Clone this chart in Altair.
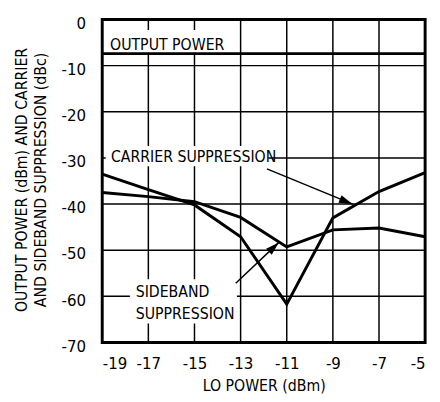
import altair as alt
import pandas as pd

# ---- data ----
lo_power = [-19, -17, -15, -13, -11, -9, -7, -5]
output_power = [-7.4, -7.4, -7.4, -7.4, -7.4, -7.4, -7.4, -7.4]
carrier_supp = [-33.5, -36.9, -40.2, -47.1, -61.7, -43.0, -37.3, -33.2]
sideband_supp = [-37.5, -38.4, -39.5, -42.9, -49.3, -45.6, -45.2, -47.1]

x_ticks = [-19, -17, -15, -13, -11, -9, -7, -5]
y_ticks = [0, -10, -20, -30, -40, -50, -60, -70]
x_range = [-19, -5]
y_range = [-70, 0]

# annotation labels
label_text = ["OUTPUT POWER", "CARRIER SUPPRESSION", "SIDEBAND", "SUPPRESSION"]
label_x = [-18.66, -18.62, -17.55, -17.55]
label_y = [-6.6, -30.8, -60.2, -65.0]

# white backgrounds behind labels (break the grid)
bg_x = [-18.75, -18.85, -17.8]
bg_x2 = [-13.9, -11.8, -13.16]
bg_y = [-2.3, -27.4, -56.3]
bg_y2 = [-7.2, -31.8, -65.9]

# arrows (start -> tip)
arr_x = [-11.86, -13.21]
arr_y = [-32.39, -57.16]
arr_x2 = [-8.14, -11.34]
arr_y2 = [-40.03, -48.32]
arr_angle = [22.2, 316.8]

FONT = "DejaVu Sans Condensed, Liberation Sans Narrow, sans-serif"

rows = []
for name, vals in [("OUTPUT POWER", output_power),
                   ("CARRIER SUPPRESSION", carrier_supp),
                   ("SIDEBAND SUPPRESSION", sideband_supp)]:
    for xv, yv in zip(lo_power, vals):
        rows.append({"series": name, "lo": xv, "val": yv})
df = pd.DataFrame(rows)

# grid lines as two-point polylines built from the tick arrays
grid_rows = []
for v in x_ticks:
    for yv in y_range:
        grid_rows.append({"g": f"v{v}", "gx": v, "gy": yv})
for v in y_ticks:
    for xv in x_range:
        grid_rows.append({"g": f"h{v}", "gx": xv, "gy": v})
grid = pd.DataFrame(grid_rows)

labels = pd.DataFrame({"t": label_text, "x": label_x, "y": label_y})
bgs = pd.DataFrame({"x": bg_x, "x2": bg_x2, "y": bg_y, "y2": bg_y2})
arrows = pd.DataFrame({"x": arr_x, "y": arr_y, "x2": arr_x2, "y2": arr_y2, "a": arr_angle})

xs = alt.Scale(domain=x_range, nice=False, zero=False)
ys = alt.Scale(domain=y_range, nice=False, zero=False)

XT = "LO POWER (dBm)"
YT = ["OUTPUT POWER (dBm) AND CARRIER", "AND SIDEBAND SUPPRESSION (dBc)"]

x_axis = alt.Axis(values=x_ticks, title=XT, grid=False, domain=False, ticks=False,
                  tickSize=0, labelPadding=14, labelFontSize=17, labelFont=FONT,
                  labelColor="black", labelOverlap=False, labelBound=False,
                  labelExpr="toString(datum.value)",
                  titleFont=FONT, titleFontSize=16,
                  titleFontWeight="normal", titleColor="black",
                  titleBaseline="alphabetic", titleY=49, titleX=164.5)
y_axis = alt.Axis(values=y_ticks, title=YT, grid=False, domain=False,
                  ticks=False, tickSize=0, labelPadding=17, labelFontSize=17,
                  labelFont=FONT, labelColor="black", labelOffset=4,
                  labelOverlap=False, labelBound=False,
                  labelExpr="toString(datum.value)",
                  titleFont=FONT, titleFontSize=16, titleFontWeight="normal",
                  titleColor="black", titleAngle=270, titleBaseline="top",
                  titleLineHeight=19, titleX=-90, titleY=163, titleAlign="center")


def X(field):
    return alt.X(field, scale=xs, axis=x_axis, title=XT)


def Y(field):
    return alt.Y(field, scale=ys, axis=y_axis, title=YT)


gridlines = alt.Chart(grid).mark_line(color="#000000", strokeWidth=1.5, opacity=1).encode(
    x=X("gx:Q"), y=Y("gy:Q"), detail="g:N",
)

lines = alt.Chart(df).mark_line(color="black", strokeWidth=3, strokeJoin="miter").encode(
    x=X("lo:Q"), y=Y("val:Q"), detail="series:N",
)

shafts = alt.Chart(arrows).mark_rule(color="black", strokeWidth=1.5).encode(
    x=X("x:Q"), x2="x2:Q", y=Y("y:Q"), y2="y2:Q",
)

heads = alt.Chart(arrows).mark_point(
    shape="M0,0L-1,-0.3L-1,0.3Z", filled=True, fill="black", opacity=1,
    strokeWidth=0, size=784,
).encode(
    x=X("x2:Q"), y=Y("y2:Q"), angle=alt.Angle("a:Q", scale=None),
)

rects = alt.Chart(bgs).mark_rect(fill="white", strokeWidth=0).encode(
    x=X("x:Q"), x2="x2:Q", y=Y("y:Q"), y2="y2:Q",
)

texts = alt.Chart(labels).mark_text(
    align="left", baseline="alphabetic", font=FONT, fontSize=16, color="black"
).encode(
    x=X("x:Q"), y=Y("y:Q"), text="t:N",
)

chart = alt.layer(gridlines, rects, lines, shafts, heads, texts).properties(
    width=329, height=329, autosize="none",
    padding={"left": 96, "top": 8, "right": 7, "bottom": 57},
    background="white",
).configure_view(stroke="black", strokeWidth=3)

chart.save("out.html", embed_options={"renderer": "svg", "actions": False})
